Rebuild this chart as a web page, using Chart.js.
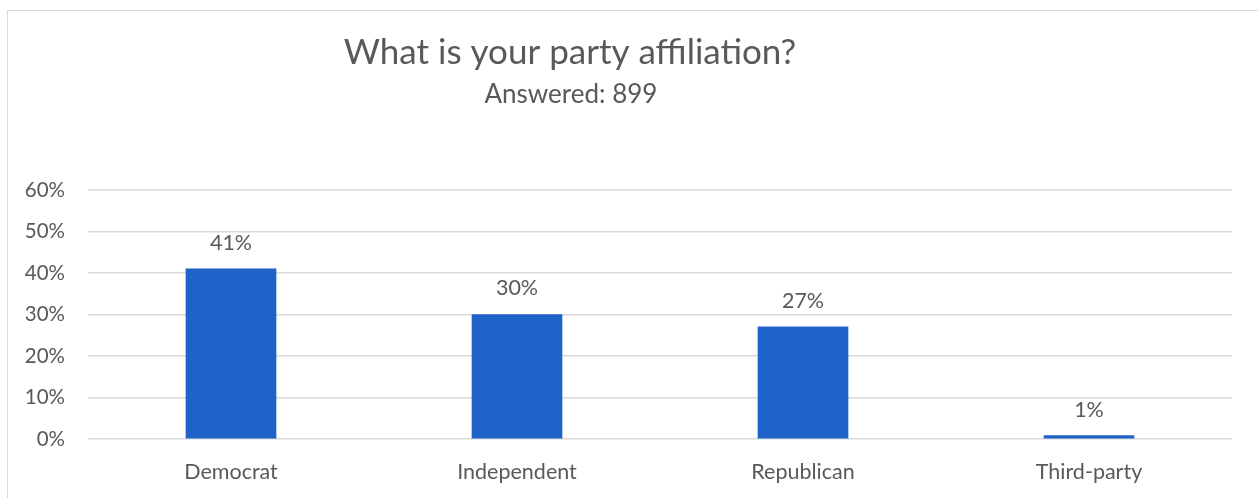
<!DOCTYPE html>
<html><head><meta charset="utf-8">
<script src="https://cdn.jsdelivr.net/npm/chart.js@4/dist/chart.umd.min.js"></script>
<style>
html,body{margin:0;padding:0;background:#fff;overflow:hidden}
#wrap{position:relative;width:1258px;height:498px}
#frame{position:absolute;left:7px;top:10px;width:1300px;height:600px;border-top:1px solid #d9d9d9;border-left:1px solid #d9d9d9}
canvas{position:absolute;left:0;top:0}
</style></head><body>
<div id="wrap"><div id="frame"></div><canvas id="c" width="1258" height="498"></canvas></div>
<script>
const categories = ["Democrat","Independent","Republican","Third-party"];
const values = [41, 30, 27, 0.8];
const titleText = "What is your party affiliation?";
const subtitleText = "Answered: 899";
const yTicks = [0,10,20,30,40,50,60];

const FONT = "Lato, 'Open Sans', sans-serif";
const TXT = "#595959";

const titlePlugin = {
  id:'customTitle',
  afterDraw(chart){
    const ctx = chart.ctx;
    ctx.save();
    ctx.fillStyle = TXT;
    ctx.textAlign = 'center';
    ctx.textBaseline = 'middle';
    ctx.font = "35px " + FONT;
    ctx.fillText(titleText, 570, 53);
    ctx.font = "26px " + FONT;
    ctx.fillText(subtitleText, 571, 95);
    ctx.restore();
  }
};
const labelPlugin = {
  id:'barLabels',
  afterDatasetsDraw(chart){
    const ctx = chart.ctx;
    const meta = chart.getDatasetMeta(0);
    ctx.save();
    ctx.fillStyle = TXT;
    ctx.textAlign = 'center';
    ctx.textBaseline = 'middle';
    ctx.font = "21.5px " + FONT;
    meta.data.forEach((bar,i)=>{
      ctx.fillText(Math.round(values[i]) + '%', bar.x, bar.y - 26);
    });
    ctx.restore();
  }
};

new Chart(document.getElementById('c'), {
  type:'bar',
  data:{labels:categories, datasets:[{data:values, backgroundColor:'#1f63c9', barThickness:90}]},
  options:{
    responsive:false, animation:false,
    layout:{padding:{left:0,right:26,top:190,bottom:0}},
    plugins:{legend:{display:false}, tooltip:{enabled:false}, title:{display:false}},
    scales:{
      y:{min:0,max:60,
        afterBuildTicks(s){ s.ticks = yTicks.map(v=>({value:v})); },
        afterFit(s){ s.width = 88; },
        border:{display:false},
        grid:{color:'#d9d9d9', lineWidth:1.5, drawTicks:false},
        ticks:{color:TXT, font:{family:FONT,size:20.5}, padding:23, callback:v=>v+'%'}
      },
      x:{
        afterFit(s){ s.height = 59; },
        border:{display:false},
        grid:{display:false, drawTicks:false},
        ticks:{color:TXT, font:{family:FONT,size:21.5}, padding:20}
      }
    }
  },
  plugins:[titlePlugin,labelPlugin]
});
</script>
</body></html>
